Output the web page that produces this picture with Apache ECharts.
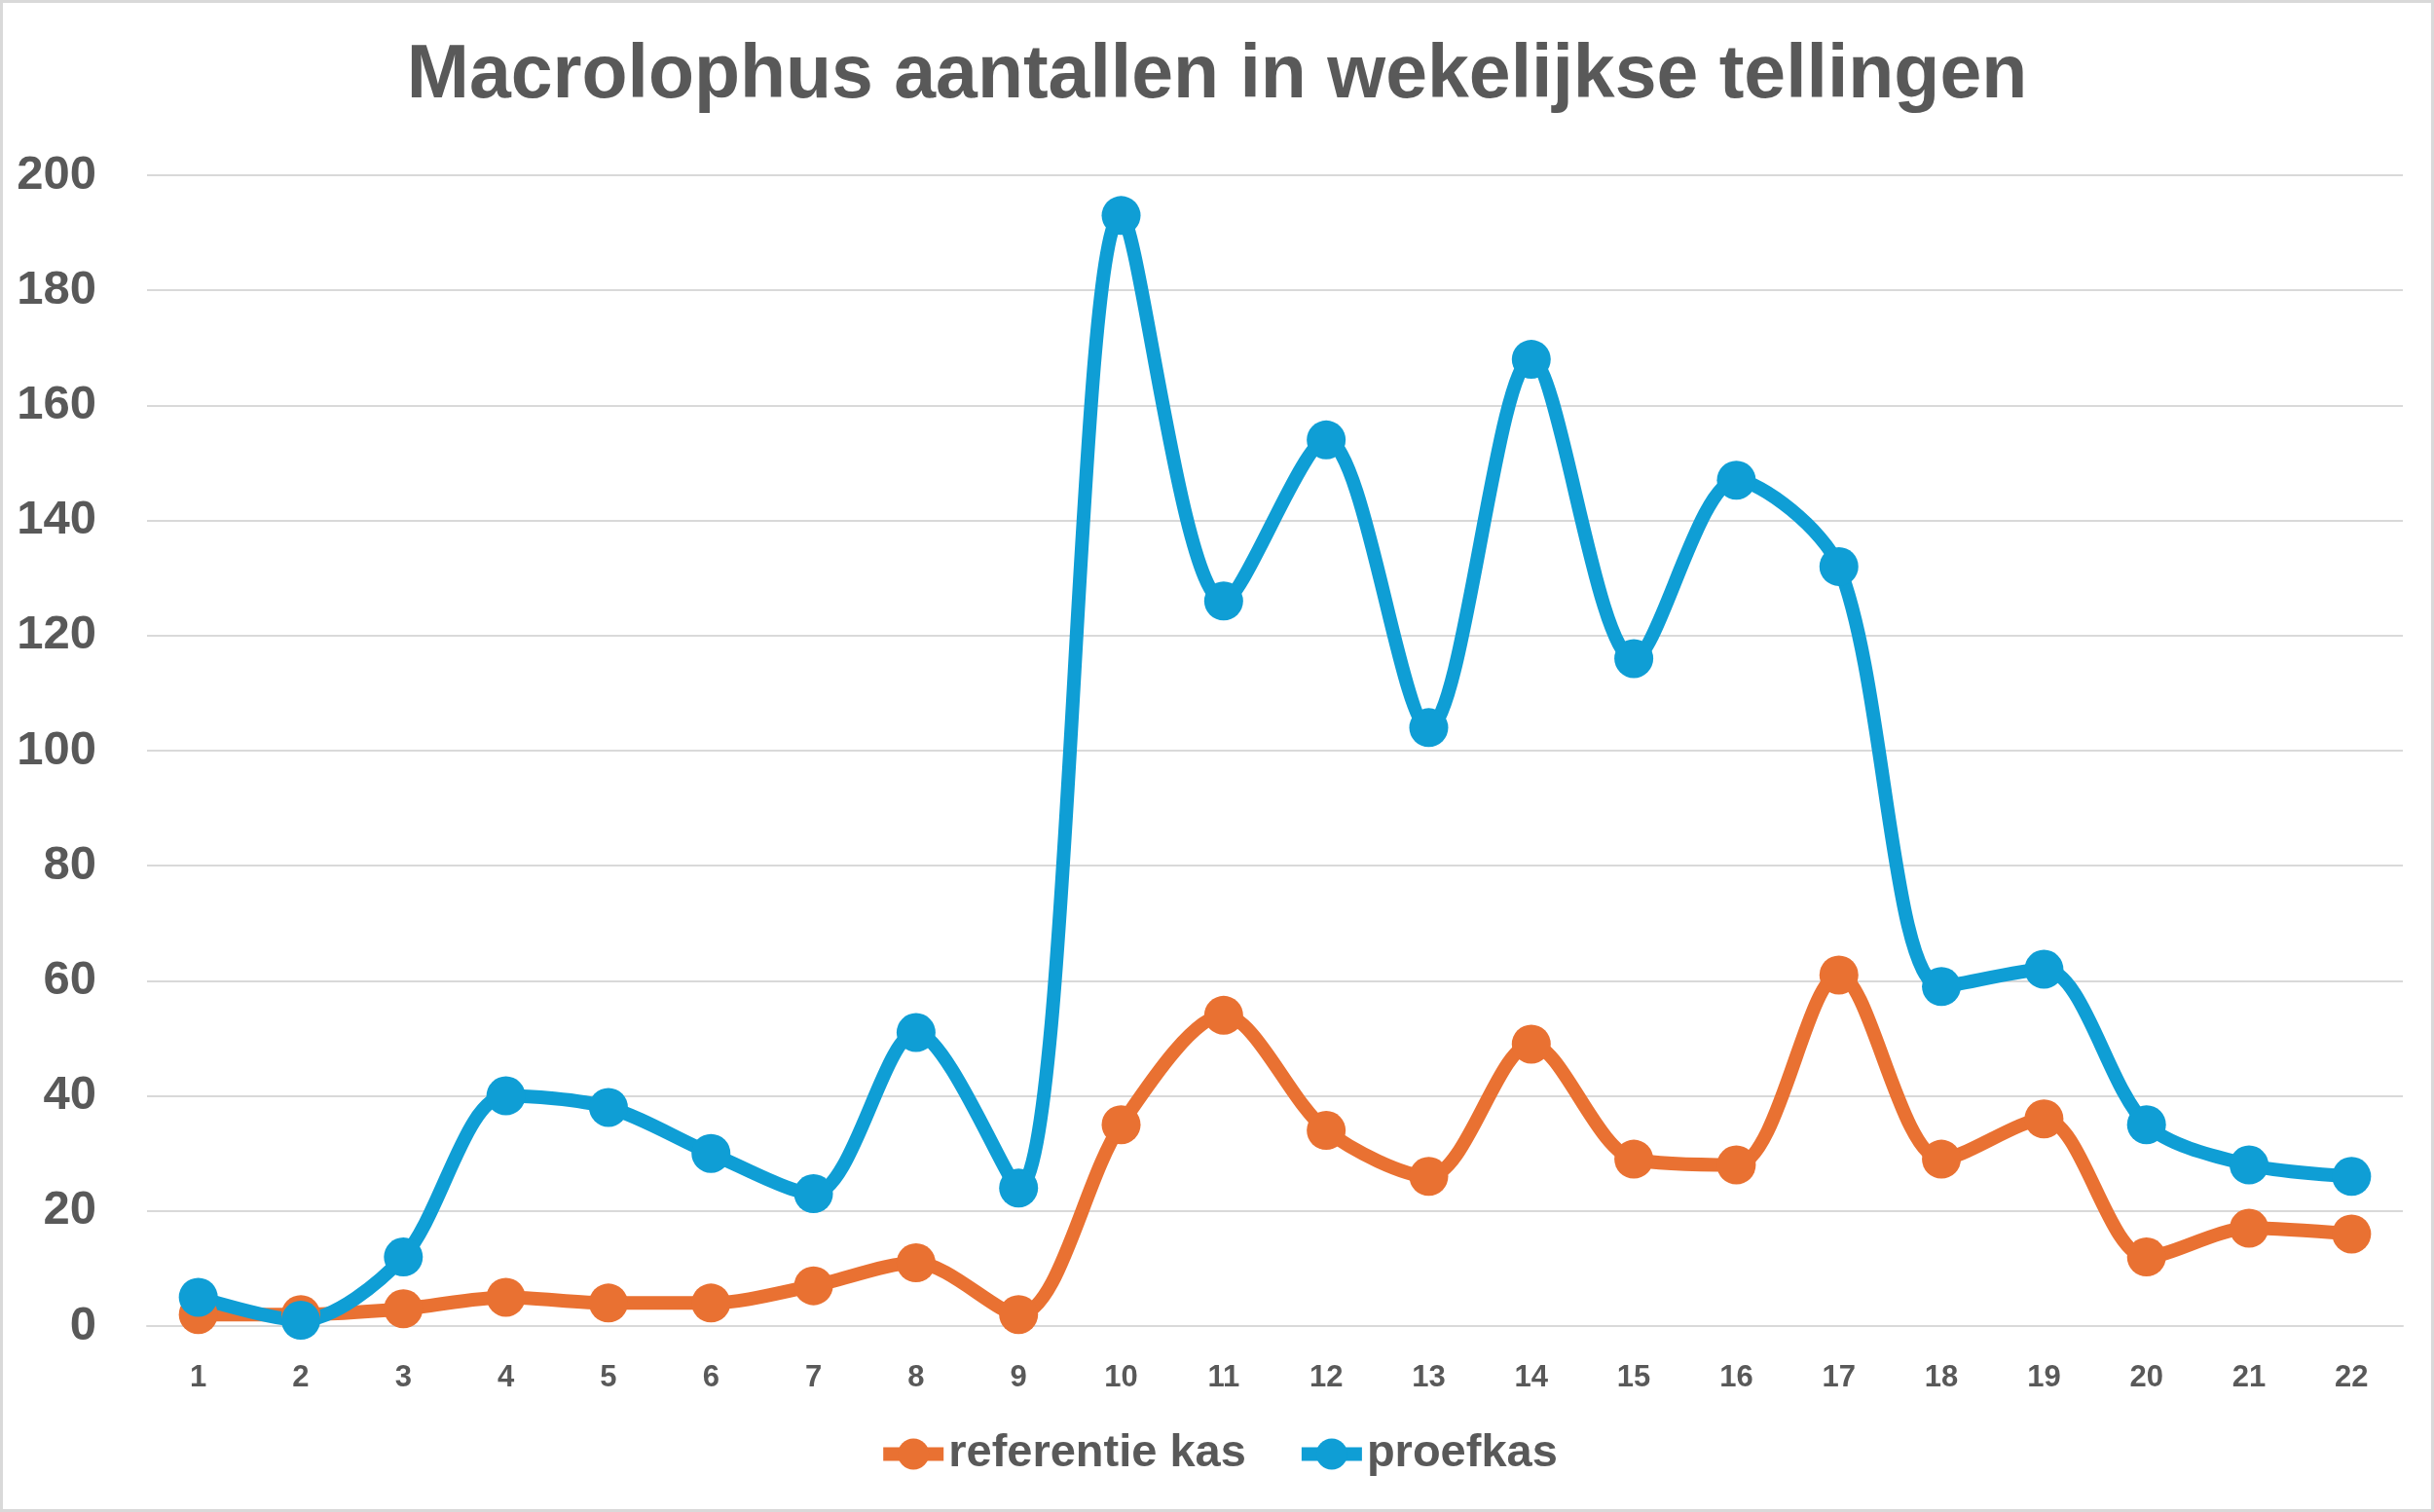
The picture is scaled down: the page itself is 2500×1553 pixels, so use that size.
<!DOCTYPE html>
<html>
<head>
<meta charset="utf-8">
<script src="https://cdn.jsdelivr.net/npm/echarts@6/dist/echarts.min.js"></script>
<style>
  html, body { margin: 0; padding: 0; background: #fff; }
  #main {
    width: 2500px;
    height: 1553px;
    box-sizing: border-box;
    border: 3px solid #d9d9d9;
  }
</style>
</head>
<body>
<div id="main"></div>
<script>
// weeks
const weeks = ['1', '2', '3', '4', '5', '6', '7', '8', '9', '10', '11',
  '12', '13', '14', '15', '16', '17', '18', '19', '20', '21', '22'];
// referentie kas
const referentieKas = [2, 2, 3, 5, 4, 4, 7, 11, 2, 35, 54, 34, 26, 49, 29, 28, 61, 29, 36, 12, 17, 16];
// proefkas
const proefkas = [5, 1, 12, 40, 38, 30, 23, 51, 24, 193, 126, 154, 104, 168, 116, 147, 132, 59, 62, 35, 28, 26];

const textColor = '#595959';
const font = 'Liberation Sans';

let myChart = echarts.init(document.getElementById('main'));
let option = {
  animation: false,
  title: {
    text: 'Macrolophus aantallen in wekelijkse tellingen',
    left: 'center',
    top: 32,
    textStyle: {
      color: textColor,
      fontFamily: font,
      fontWeight: 'bold',
      fontSize: 77
    }
  },
  legend: {
    bottom: 28,
    left: 'center',
    itemWidth: 62,
    itemHeight: 40,
    itemGap: 50,
    lineStyle: { width: 14 },
    textStyle: {
      color: textColor,
      fontFamily: font,
      fontWeight: 'bold',
      fontSize: 47
    },
    data: ['referentie kas', 'proefkas']
  },
  grid: {
    left: 148,
    right: 29,
    top: 177,
    bottom: 188,
    containLabel: false
  },
  xAxis: {
    type: 'category',
    boundaryGap: true,
    data: weeks,
    axisLine: { lineStyle: { color: '#d9d9d9', width: 2 } },
    axisTick: { show: false },
    axisLabel: {
      color: textColor,
      fontFamily: font,
      fontWeight: 'bold',
      fontSize: 31,
      margin: 38
    }
  },
  yAxis: {
    type: 'value',
    min: 0,
    max: 200,
    interval: 20,
    axisLine: { show: false },
    axisTick: { show: false },
    splitLine: { lineStyle: { color: '#d9d9d9', width: 2 } },
    axisLabel: {
      color: textColor,
      fontFamily: font,
      fontWeight: 'bold',
      fontSize: 49,
      margin: 52
    }
  },
  series: [
    {
      name: 'referentie kas',
      type: 'line',
      data: referentieKas,
      smooth: 0.3,
      symbol: 'circle',
      symbolSize: 40,
      color: '#E97132',
      lineStyle: { width: 14, color: '#E97132' },
      itemStyle: { color: '#E97132' }
    },
    {
      name: 'proefkas',
      type: 'line',
      data: proefkas,
      smooth: 0.3,
      symbol: 'circle',
      symbolSize: 40,
      color: '#0F9ED5',
      lineStyle: { width: 14, color: '#0F9ED5' },
      itemStyle: { color: '#0F9ED5' }
    }
  ]
};
option && myChart.setOption(option);
</script>
</body>
</html>
